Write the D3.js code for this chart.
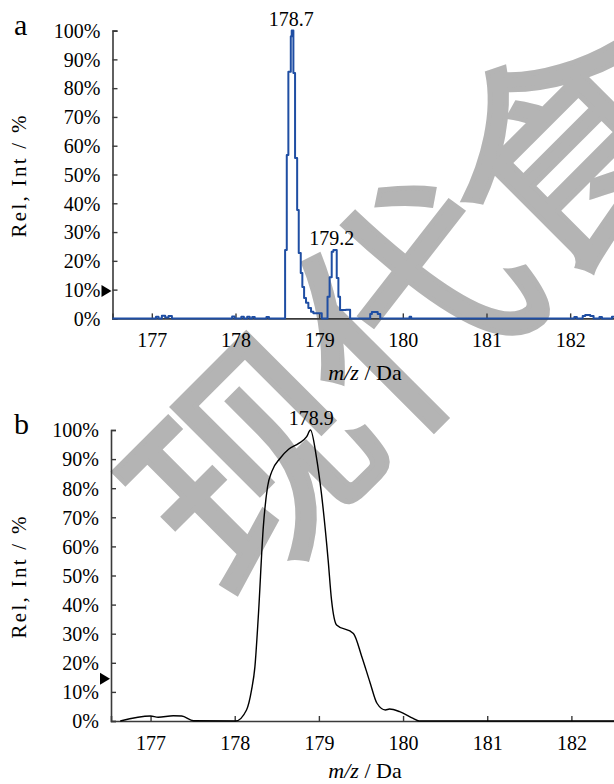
<!DOCTYPE html>
<html>
<head>
<meta charset="utf-8">
<script src="https://cdn.jsdelivr.net/npm/d3@7"></script>
</head>
<body style="margin:0;background:#fff">
<script>
// tick values shared by both panels
const xTicks = [177, 178, 179, 180, 181, 182];
const yTicks = [0, 10, 20, 30, 40, 50, 60, 70, 80, 90, 100];

// panel a: stepped centroid profile (m/z, relative intensity %)
const mzA = [176.53, 177.05, 177.08, 177.12, 177.16, 177.2, 177.24, 177.96, 177.99, 178.07, 178.1,
    178.14, 178.17, 178.2, 178.23, 178.37, 178.4, 178.593, 178.613, 178.632, 178.661, 178.672,
    178.692, 178.712, 178.737, 178.756, 178.78, 178.799, 178.82, 178.843, 178.871, 178.903,
    178.931, 179.031, 179.1, 179.125, 179.15, 179.17, 179.21, 179.23, 179.25, 179.32, 179.37,
    179.61, 179.63, 179.7, 179.73, 180.08, 180.1, 182.05, 182.08, 182.15, 182.18, 182.24,
    182.28, 182.35, 182.38, 182.5, 182.53];
const intA = [0, 0.6, 0, 0.9, 0.3, 0.8, 0, 0.7, 0, 0.6, 0,
    0.6, 0, 0.5, 0, 0.5, 0, 23.8, 56.8, 85.7, 98, 100,
    85.3, 55.7, 37.7, 22.7, 15.8, 10.9, 7.1, 5.4, 3.6, 2.3,
    1.8, 0, 7.5, 14.3, 23.2, 23.8, 14, 7.5, 2.9, 3, 0,
    1.5, 2.2, 1.5, 0, 0.6, 0, 0.5, 0, 0.8, 1.2, 0.8,
    0, 0.5, 0, 0.6, 0.6];
const peaksA = [{mz: 178.665, value: 100, text: "178.7"}, {mz: 179.15, value: 23.8, text: "179.2"}];
const markerA = 9.5;

// panel b: smooth profile
const mzB = [176.64, 177.0, 177.09, 177.27, 177.37, 177.51, 178.01, 178.14, 178.2, 178.24, 178.28,
    178.34, 178.39, 178.44, 178.54, 178.64, 178.76, 178.855, 178.9, 178.97, 179.03, 179.11,
    179.15, 179.21, 179.41, 179.51, 179.61, 179.69, 179.79, 179.84, 179.96, 180.12, 180.19, 182.53];
const intB = [0, 1.7, 1.3, 1.8, 1.7, 0.1, 0, 3.8, 10.7, 18.7, 35.8,
    66.8, 80.5, 85.7, 90.3, 93.4, 95.4, 97.7, 100, 90.8, 78.2, 55.3,
    41.6, 33, 30.1, 22.1, 13, 6.1, 3.8, 4.1, 3.2, 0.9, 0, 0];
const peaksB = [{mz: 178.91, value: 100, text: "178.9"}];
const markerB = 14.5;

const serif = '"Liberation Serif"';
const width = 614, height = 784;
const svg = d3.select("body").append("svg")
    .attr("width", width)
    .attr("height", height)
    .style("display", "block");

svg.append("rect").attr("width", width).attr("height", height).attr("fill", "#fff");

// watermark (under the plots)
svg.append("text")
    .attr("transform", "translate(160,536) rotate(-45)")
    .attr("dominant-baseline", "central")
    .style("font-family", '"Noto Sans CJK SC"')
    .style("font-size", "232px")
    .style("letter-spacing", "-10px")
    .attr("fill", "#b4b4b4")
    .attr("stroke", "#b4b4b4")
    .attr("stroke-width", 5)
    .text("现代食品");

function drawPanel(cfg) {
    const x = d3.scaleLinear().domain([176.53, 182.53]).range([cfg.left, cfg.right]);
    const y = d3.scaleLinear().domain([0, 100]).range([cfg.bottom, cfg.top]);
    const g = svg.append("g");

    const axisColor = "#3a3a3a";

    // x axis with inward ticks
    const xa = g.append("g")
        .attr("transform", `translate(0,${cfg.bottom})`)
        .call(d3.axisBottom(x).tickValues(xTicks).tickSize(-5).tickPadding(10).tickFormat(d3.format("d")));
    // y axis with inward ticks
    const ya = g.append("g")
        .attr("transform", `translate(${cfg.left},0)`)
        .call(d3.axisLeft(y).tickValues(yTicks).tickSize(-5).tickPadding(12).tickFormat(d => d + "%"));

    [xa, ya].forEach(a => {
        a.attr("font-family", null).attr("font-size", null);
        a.select(".domain").attr("stroke", axisColor).attr("stroke-width", 1.6);
        a.selectAll(".tick line").attr("stroke", axisColor).attr("stroke-width", 1.4);
        a.selectAll(".tick text")
            .attr("fill", "#000")
            .style("font-family", serif)
            .style("font-size", "20px");
    });
    xa.selectAll(".tick text").attr("dy", "0.95em");
    ya.selectAll(".tick text").attr("dy", "0.34em");

    // spectrum
    const line = d3.line()
        .x(d => x(d[0]))
        .y(d => y(d[1]))
        .curve(cfg.curve);
    const pts = d3.zip(cfg.mz, cfg.int);
    g.append("path")
        .datum(pts)
        .attr("d", line)
        .attr("fill", "none")
        .attr("stroke", cfg.color)
        .attr("stroke-width", cfg.lineWidth)
        .attr("stroke-linejoin", "round");

    // peak labels
    g.selectAll(".peak")
        .data(cfg.peaks)
        .enter()
        .append("text")
        .attr("x", d => x(d.mz))
        .attr("y", d => y(d.value) - cfg.labelGap)
        .attr("text-anchor", "middle")
        .style("font-family", serif)
        .style("font-size", "20px")
        .text(d => d.text);

    // threshold marker
    const my = y(cfg.marker);
    g.append("path")
        .attr("d", `M${cfg.left - 11},${my - 6}L${cfg.left - 1},${my}L${cfg.left - 11},${my + 6}Z`)
        .attr("fill", "#000");

    // panel letter
    g.append("text")
        .attr("x", 14)
        .attr("y", cfg.top + 4)
        .style("font-family", serif)
        .style("font-size", "30px")
        .text(cfg.letter);

    // y title
    g.append("text")
        .attr("transform", `translate(26,${(cfg.top + cfg.bottom) / 2 + 2}) rotate(-90)`)
        .attr("text-anchor", "middle")
        .attr("textLength", 122)
        .attr("lengthAdjust", "spacing")
        .style("font-family", serif)
        .style("font-size", "21px")
        .text("Rel, Int / %");

    // x title
    const xt = g.append("text")
        .attr("x", 365)
        .attr("y", cfg.bottom + cfg.titleGap)
        .attr("text-anchor", "middle")
        .style("font-family", serif)
        .style("font-size", "22px");
    xt.append("tspan").style("font-style", "italic").text("m/z");
    xt.append("tspan").text(" / Da");
}

drawPanel({
    letter: "a", left: 112.5, right: 614.5, top: 30.6, bottom: 318.4,
    mz: mzA, int: intA, peaks: peaksA, marker: markerA,
    curve: d3.curveStepAfter, color: "#1f4ea3", lineWidth: 2, labelGap: 5, titleGap: 62
});

drawPanel({
    letter: "b", left: 111, right: 616, top: 430, bottom: 721,
    mz: mzB, int: intB, peaks: peaksB, marker: markerB,
    curve: d3.curveMonotoneX, color: "#000", lineWidth: 1.4, labelGap: 5, titleGap: 57
});
</script>
</body>
</html>
